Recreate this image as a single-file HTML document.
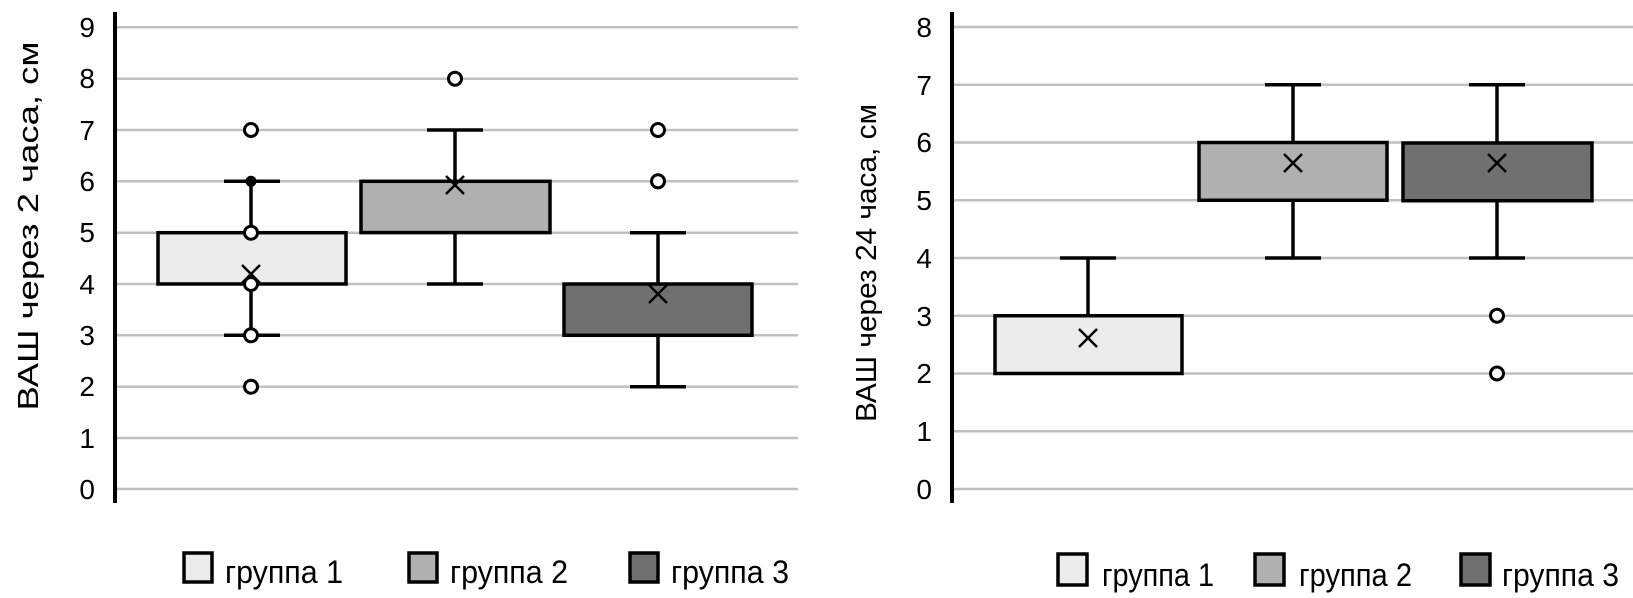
<!DOCTYPE html>
<html><head><meta charset="utf-8"><style>
html,body{margin:0;padding:0;background:#fff;}
svg{display:block;}
text{font-family:"Liberation Sans Narrow","Liberation Sans",sans-serif;fill:#000;}
</style></head><body>
<svg width="1633" height="598" viewBox="0 0 1633 598" xmlns="http://www.w3.org/2000/svg">
<g stroke="#c0c0c0" stroke-width="2.5">
<line x1="115" y1="27.3" x2="798" y2="27.3"/>
<line x1="115" y1="78.7" x2="798" y2="78.7"/>
<line x1="115" y1="130" x2="798" y2="130"/>
<line x1="115" y1="181.3" x2="798" y2="181.3"/>
<line x1="115" y1="232.7" x2="798" y2="232.7"/>
<line x1="115" y1="284" x2="798" y2="284"/>
<line x1="115" y1="335.3" x2="798" y2="335.3"/>
<line x1="115" y1="386.7" x2="798" y2="386.7"/>
<line x1="115" y1="438" x2="798" y2="438"/>
<line x1="115" y1="489" x2="798" y2="489"/>
</g>
<line x1="115" y1="12" x2="115" y2="503" stroke="#000" stroke-width="4"/>
<g font-size="28" text-anchor="end">
<text x="95" y="37">9</text><text x="95" y="88">8</text><text x="95" y="140">7</text>
<text x="95" y="191">6</text><text x="95" y="242">5</text><text x="95" y="294">4</text>
<text x="95" y="345">3</text><text x="95" y="396">2</text><text x="95" y="448">1</text>
<text x="95" y="499">0</text>
</g>
<text transform="translate(38,226) rotate(-90)" font-size="29" text-anchor="middle" textLength="369" lengthAdjust="spacingAndGlyphs">ВАШ через 2 часа, см</text>
<g stroke="#000" stroke-width="3.5">
<line x1="251" y1="181.3" x2="251" y2="335.3"/>
<line x1="224" y1="181.3" x2="280" y2="181.3"/>
<line x1="224" y1="335.3" x2="280" y2="335.3"/>
<rect x="158" y="232.7" width="188" height="51.3" fill="#ebebeb"/>
<line x1="455" y1="130" x2="455" y2="284"/>
<line x1="427" y1="130" x2="483" y2="130"/>
<line x1="427" y1="284" x2="483" y2="284"/>
<rect x="361" y="181.3" width="189" height="51.3" fill="#b0b0b0"/>
<line x1="658" y1="232.7" x2="658" y2="386.7"/>
<line x1="630" y1="232.7" x2="686" y2="232.7"/>
<line x1="630" y1="386.7" x2="686" y2="386.7"/>
<rect x="564" y="284" width="188" height="51.3" fill="#707070"/>
</g>
<g stroke="#000" stroke-width="3" fill="#fff">
<circle cx="251" cy="130" r="6.5"/><circle cx="251" cy="232.7" r="6.5"/>
<circle cx="251" cy="284" r="6.5"/><circle cx="251" cy="335.3" r="6.5"/>
<circle cx="251" cy="386.7" r="6.5"/><circle cx="251" cy="181.3" r="4" fill="#000"/>
<circle cx="455" cy="78.7" r="6.5"/>
<circle cx="658" cy="130" r="6.5"/><circle cx="658" cy="181.3" r="6.5"/>
</g>
<g stroke="#000" stroke-width="2.5">
<path d="M242 265 l18 18 M260 265 l-18 18"/>
<path d="M446 176 l18 18 M464 176 l-18 18"/>
<path d="M649 285 l18 18 M667 285 l-18 18"/>
</g>
<g stroke="#c0c0c0" stroke-width="2.5">
<line x1="952" y1="27" x2="1633" y2="27"/>
<line x1="952" y1="84.75" x2="1633" y2="84.75"/>
<line x1="952" y1="142.5" x2="1633" y2="142.5"/>
<line x1="952" y1="200.25" x2="1633" y2="200.25"/>
<line x1="952" y1="258" x2="1633" y2="258"/>
<line x1="952" y1="315.75" x2="1633" y2="315.75"/>
<line x1="952" y1="373.5" x2="1633" y2="373.5"/>
<line x1="952" y1="431.25" x2="1633" y2="431.25"/>
<line x1="952" y1="489" x2="1633" y2="489"/>
</g>
<line x1="952" y1="12" x2="952" y2="503" stroke="#000" stroke-width="4"/>
<g font-size="28" text-anchor="end">
<text x="932" y="37">8</text><text x="932" y="95">7</text><text x="932" y="152">6</text>
<text x="932" y="210">5</text><text x="932" y="268">4</text><text x="932" y="326">3</text>
<text x="932" y="383">2</text><text x="932" y="441">1</text><text x="932" y="499">0</text>
</g>
<text transform="translate(876,263) rotate(-90)" font-size="29" text-anchor="middle" textLength="318" lengthAdjust="spacingAndGlyphs">ВАШ через 24 часа, см</text>
<g stroke="#000" stroke-width="3.5">
<line x1="1088" y1="258" x2="1088" y2="315.75"/>
<line x1="1060" y1="258" x2="1116" y2="258"/>
<rect x="995" y="315.75" width="187" height="57.75" fill="#ebebeb"/>
<line x1="1293" y1="84.75" x2="1293" y2="258"/>
<line x1="1265" y1="84.75" x2="1321" y2="84.75"/>
<line x1="1265" y1="258" x2="1321" y2="258"/>
<rect x="1199" y="142.5" width="188" height="57.75" fill="#b0b0b0"/>
<line x1="1497" y1="84.75" x2="1497" y2="258"/>
<line x1="1469" y1="84.75" x2="1525" y2="84.75"/>
<line x1="1469" y1="258" x2="1525" y2="258"/>
<rect x="1403" y="143" width="189" height="57.75" fill="#707070"/>
</g>
<g stroke="#000" stroke-width="3" fill="#fff">
<circle cx="1497" cy="315.75" r="6.5"/><circle cx="1497" cy="373.5" r="6.5"/>
</g>
<g stroke="#000" stroke-width="2.5">
<path d="M1079 329 l18 18 M1097 329 l-18 18"/>
<path d="M1284 154 l18 18 M1302 154 l-18 18"/>
<path d="M1488 154 l18 18 M1506 154 l-18 18"/>
</g>
<g stroke="#000" stroke-width="3.5">
<rect x="184" y="553" width="28" height="29" fill="#ebebeb"/>
<rect x="409" y="553" width="28" height="29" fill="#b0b0b0"/>
<rect x="630" y="553" width="28" height="29" fill="#707070"/>
<rect x="1058" y="554" width="29" height="31" fill="#ebebeb"/>
<rect x="1255" y="554" width="29" height="31" fill="#b0b0b0"/>
<rect x="1461" y="554" width="29" height="31" fill="#707070"/>
</g>
<g font-size="32">
<text x="225" y="583" textLength="118" lengthAdjust="spacingAndGlyphs">группа 1</text>
<text x="450" y="583" textLength="118" lengthAdjust="spacingAndGlyphs">группа 2</text>
<text x="671" y="583" textLength="118" lengthAdjust="spacingAndGlyphs">группа 3</text>
<text x="1102" y="586" textLength="112" lengthAdjust="spacingAndGlyphs">группа 1</text>
<text x="1299" y="586" textLength="113" lengthAdjust="spacingAndGlyphs">группа 2</text>
<text x="1502" y="586" textLength="117" lengthAdjust="spacingAndGlyphs">группа 3</text>
</g>
</svg>
</body></html>
